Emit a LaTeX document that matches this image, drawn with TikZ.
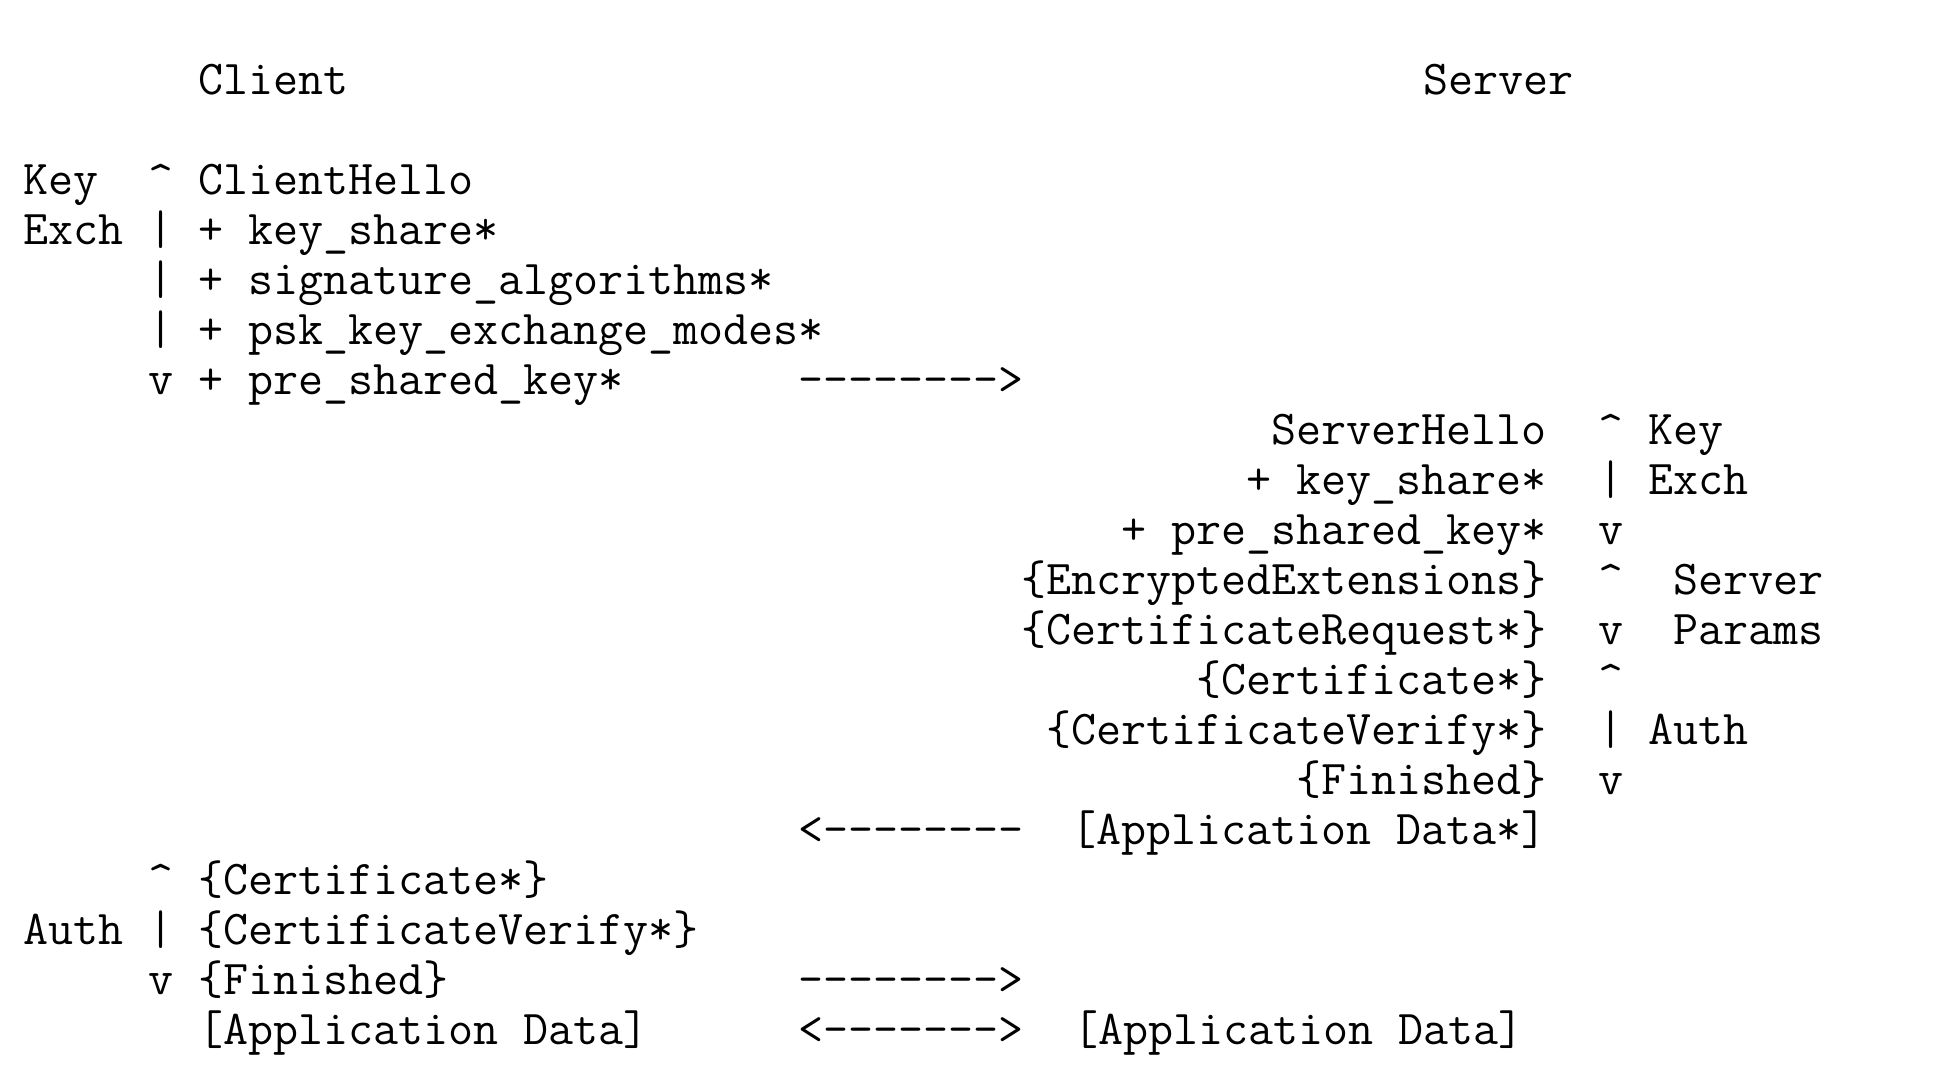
\documentclass[tikz,border=0pt]{standalone}
\usepackage{fontspec}
\usepackage{tikz}
\newcommand{\up}{\textasciicircum}
\begin{document}
\begin{tikzpicture}[x=2.5mm,y=-5mm,font=\ttfamily\fontsize{13.83}{16}\selectfont,
  lt/.style={anchor=base west,inner sep=0pt},
  rt/.style={anchor=base east,inner sep=0pt}]
\useasboundingbox (-0.9,-1.89) rectangle (77.42,19.59);
% peers
\node[lt] (client) at (7,0) {Client}; \node[lt] (server) at (56,0) {Server};
% client hello
\node[lt] (ckey) at (0,2) {Key}; \node[lt] (cexch) at (0,3) {Exch};
\node[lt] (cup1) at (5,2) {\up}; \node[lt] (cbar1) at (5,3) {|}; \node[lt] (cbar2) at (5,4) {|};
\node[lt] (cbar3) at (5,5) {|}; \node[lt] (cdn1) at (5,6) {v};
\node[lt] (chello) at (7,2) {ClientHello};
\node[lt] (cks) at (7,3) {+ key\_share*};
\node[lt] (csig) at (7,4) {+ signature\_algorithms*};
\node[lt] (cpsk) at (7,5) {+ psk\_key\_exchange\_modes*};
\node[lt] (cpre) at (7,6) {+ pre\_shared\_key*};
\node[lt] (arr1) at (31,6) {-------->};
% server flight
\node[rt] (shello) at (61,7) {ServerHello};
\node[rt] (sks) at (61,8) {+ key\_share*};
\node[rt] (spre) at (61,9) {+ pre\_shared\_key*};
\node[rt] (sext) at (61,10) {\{EncryptedExtensions\}};
\node[rt] (sreq) at (61,11) {\{CertificateRequest*\}};
\node[rt] (scert) at (61,12) {\{Certificate*\}};
\node[rt] (sverify) at (61,13) {\{CertificateVerify*\}};
\node[rt] (sfin) at (61,14) {\{Finished\}};
\node[rt] (sdata) at (61,15) {[Application Data*]};
\node[lt] (arr2) at (31,15) {<--------};
\node[lt] (sup1) at (63,7) {\up}; \node[lt] (sbar1) at (63,8) {|}; \node[lt] (sdn1) at (63,9) {v};
\node[lt] (sup2) at (63,10) {\up}; \node[lt] (sdn2) at (63,11) {v};
\node[lt] (sup3) at (63,12) {\up}; \node[lt] (sbar3) at (63,13) {|}; \node[lt] (sdn3) at (63,14) {v};
\node[lt] (skey) at (65,7) {Key}; \node[lt] (sexch) at (65,8) {Exch};
\node[lt] (sserv) at (66,10) {Server}; \node[lt] (sparams) at (66,11) {Params};
\node[lt] (sauth) at (65,13) {Auth};
% client auth
\node[lt] (cup2) at (5,16) {\up}; \node[lt] (cbar4) at (5,17) {|}; \node[lt] (cdn2) at (5,18) {v};
\node[lt] (cauth) at (0,17) {Auth};
\node[lt] (ccert) at (7,16) {\{Certificate*\}};
\node[lt] (cverify) at (7,17) {\{CertificateVerify*\}};
\node[lt] (cfin) at (7,18) {\{Finished\}};
\node[lt] (arr3) at (31,18) {-------->};
\node[lt] (cdata) at (7,19) {[Application Data]};
\node[lt] (arr4) at (31,19) {<------->};
\node[lt] (sdata2) at (42,19) {[Application Data]};
\end{tikzpicture}
\end{document}
